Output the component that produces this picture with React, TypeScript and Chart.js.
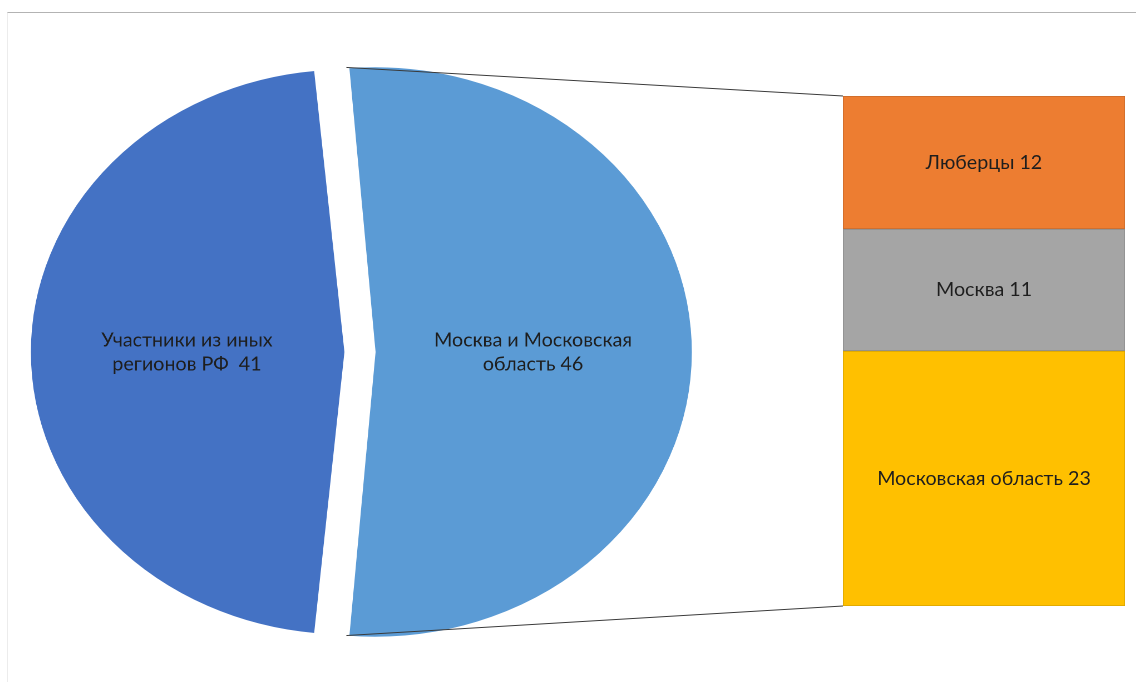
import React, { useEffect, useRef } from "react";
import { Chart, registerables } from "chart.js";
Chart.register(...registerables);

// ---- data ----
const pieCategories = ["Москва и Московская область", "Участники из иных регионов РФ"];
const pieValues = [46, 41];
const pieColors = ["#5B9BD5", "#4472C4"];
const pieLabelLines = [
  ["Москва и Московская", "область"],
  ["Участники из иных", "регионов РФ "],
];

// stacked bar, listed bottom to top
const barCategories = ["Московская область", "Москва", "Люберцы"];
const barValues = [23, 11, 12];
const barColors = ["#FFC000", "#A5A5A5", "#ED7D31"];
const barBorderColors = ["#D9A400", "#8C8C8C", "#C96A2A"];

// ---- layout / style ----
const FONT = "Lato, 'Open Sans', sans-serif";
const FONT_SIZE = 19.7;
const TEXT_COLOR = "#1e1e1e";
const PAGE_W = 1136;
const PAGE_H = 682;
const PIE_W = 640;
const PIE_H = 600;
const PIE_LEFT = 40;
const PIE_TOP = 51.5;
const PIE_R_TARGET = 284;
const SX = 316 / 284; // horizontal stretch of the pie
const EXPLODE = 13.5;

const total = pieValues.reduce((a, b) => a + b, 0);
const firstShare = pieValues[0] / total;
const rotationDeg = -(firstShare * 360 - 180) / 2;
// Chart.js translates an arc by offset/4 and grows its radius by offset*fix/4
const pieFix = pieValues.map((v) => {
  const c = (v / total) * Math.PI * 2;
  return 1 - Math.sin(Math.min(Math.PI, c));
});
const OFFSET = EXPLODE * 4;
const radiusGrowth = pieFix.map((f) => (OFFSET * f) / 4);
const PIE_R = PIE_R_TARGET - (radiusGrowth[0] + radiusGrowth[1]) / 2;

export default function App() {
  const pieCanvas = useRef<HTMLCanvasElement>(null);
  const barCanvas = useRef<HTMLCanvasElement>(null);

  useEffect(() => {
    const pieLabels = {
      id: "pieLabels",
      afterDatasetsDraw(chart: any) {
        const meta = chart.getDatasetMeta(0);
        const ctx = chart.ctx;
        meta.data.forEach((arc: any, i: number) => {
          const { x, y, startAngle, endAngle } = arc.getProps(["x", "y", "startAngle", "endAngle"], true);
          const mid = (startAngle + endAngle) / 2;
          const d = EXPLODE + PIE_R_TARGET * 0.5;
          const px = x + Math.cos(mid) * d;
          const py = y + Math.sin(mid) * d;
          ctx.save();
          ctx.translate(px, py);
          ctx.scale(1 / SX, 1);
          ctx.font = `${FONT_SIZE}px ${FONT}`;
          ctx.fillStyle = TEXT_COLOR;
          ctx.textAlign = "center";
          ctx.textBaseline = "middle";
          const lines = [...pieLabelLines[i]];
          lines[lines.length - 1] += " " + pieValues[i];
          const lh = 24;
          lines.forEach((l, j) => ctx.fillText(l, 0, (j - (lines.length - 1) / 2) * lh));
          ctx.restore();
        });
      },
    };

    const pie = new Chart(pieCanvas.current!, {
      type: "pie",
      data: {
        labels: pieCategories,
        datasets: [
          {
            data: pieValues,
            backgroundColor: pieColors,
            borderColor: "#ffffff",
            borderWidth: 1,
            offset: OFFSET,
            hoverOffset: 0,
          } as any,
        ],
      },
      options: {
        animation: false,
        responsive: false,
        devicePixelRatio: 2,
        radius: PIE_R,
        rotation: rotationDeg,
        events: [],
        plugins: { legend: { display: false }, tooltip: { enabled: false } },
      } as any,
      plugins: [pieLabels],
    });

    const connectors = {
      id: "connectors",
      beforeDatasetsDraw(chart: any) {
        const arc: any = pie.getDatasetMeta(0).data[0];
        if (!arc) return;
        const { x, y, startAngle, endAngle, outerRadius } = arc.getProps(
          ["x", "y", "startAngle", "endAngle", "outerRadius"],
          true
        );
        const r = outerRadius + radiusGrowth[0];
        const mid = (startAngle + endAngle) / 2;
        const toPage = (ux: number, uy: number) => [
          PIE_LEFT + PIE_W / 2 + SX * (ux - PIE_W / 2),
          PIE_TOP + uy,
        ];
        const cx = x + Math.cos(mid) * EXPLODE;
        const cy = y + Math.sin(mid) * EXPLODE;
        const pTop = toPage(cx + r * Math.cos(startAngle), cy + r * Math.sin(startAngle));
        const pBot = toPage(cx + r * Math.cos(endAngle), cy + r * Math.sin(endAngle));
        const n = chart.data.datasets.length;
        const topBar: any = chart.getDatasetMeta(n - 1).data[0];
        const botBar: any = chart.getDatasetMeta(0).data[0];
        const leftX = topBar.x - topBar.width / 2;
        const ctx = chart.ctx;
        ctx.save();
        ctx.strokeStyle = "#3a3a3a";
        ctx.lineWidth = 1;
        ctx.beginPath();
        ctx.moveTo(pTop[0], pTop[1]);
        ctx.lineTo(leftX, topBar.y);
        ctx.moveTo(pBot[0], pBot[1]);
        ctx.lineTo(leftX, botBar.base);
        ctx.stroke();
        ctx.restore();
      },
      afterDatasetsDraw(chart: any) {
        const ctx = chart.ctx;
        ctx.save();
        ctx.font = `${FONT_SIZE}px ${FONT}`;
        ctx.fillStyle = TEXT_COLOR;
        ctx.textAlign = "center";
        ctx.textBaseline = "middle";
        chart.data.datasets.forEach((_: any, i: number) => {
          const el: any = chart.getDatasetMeta(i).data[0];
          ctx.fillText(barCategories[i] + " " + barValues[i], el.x, (el.y + el.base) / 2);
        });
        ctx.restore();
      },
    };

    const bar = new Chart(barCanvas.current!, {
      type: "bar",
      data: {
        labels: [""],
        datasets: barValues.map((v, i) => ({
          label: barCategories[i],
          data: [v],
          backgroundColor: barColors[i],
          borderColor: barBorderColors[i],
          borderWidth: 1,
          borderSkipped: false,
          barPercentage: 1,
          categoryPercentage: 1,
        })),
      },
      options: {
        animation: false,
        responsive: false,
        events: [],
        layout: { padding: { left: 843, right: 11, top: 96, bottom: 76 } },
        scales: {
          x: { display: false, stacked: true },
          y: { display: false, stacked: true, min: 0, max: barValues.reduce((a, b) => a + b, 0) },
        },
        plugins: { legend: { display: false }, tooltip: { enabled: false } },
      } as any,
      plugins: [connectors],
    });

    return () => {
      bar.destroy();
      pie.destroy();
    };
  }, []);

  return (
    <div style={{ position: "fixed", left: 0, top: 0, width: PAGE_W, height: PAGE_H, background: "#fff", overflow: "hidden" }}>
      <div
        style={{
          position: "absolute",
          left: 7,
          top: 12,
          width: 1140,
          height: 700,
          borderTop: "1px solid #b3b3b3",
          borderLeft: "1px solid #ececec",
        }}
      />
      <div
        style={{
          position: "absolute",
          left: PIE_LEFT,
          top: PIE_TOP,
          width: PIE_W,
          height: PIE_H,
          transform: `scaleX(${SX})`,
          transformOrigin: "center center",
        }}
      >
        <canvas ref={pieCanvas} width={PIE_W} height={PIE_H} style={{ display: "block" }} />
      </div>
      <div style={{ position: "absolute", left: 0, top: 0, width: PAGE_W, height: PAGE_H, pointerEvents: "none" }}>
        <canvas ref={barCanvas} width={PAGE_W} height={PAGE_H} style={{ display: "block" }} />
      </div>
    </div>
  );
}
